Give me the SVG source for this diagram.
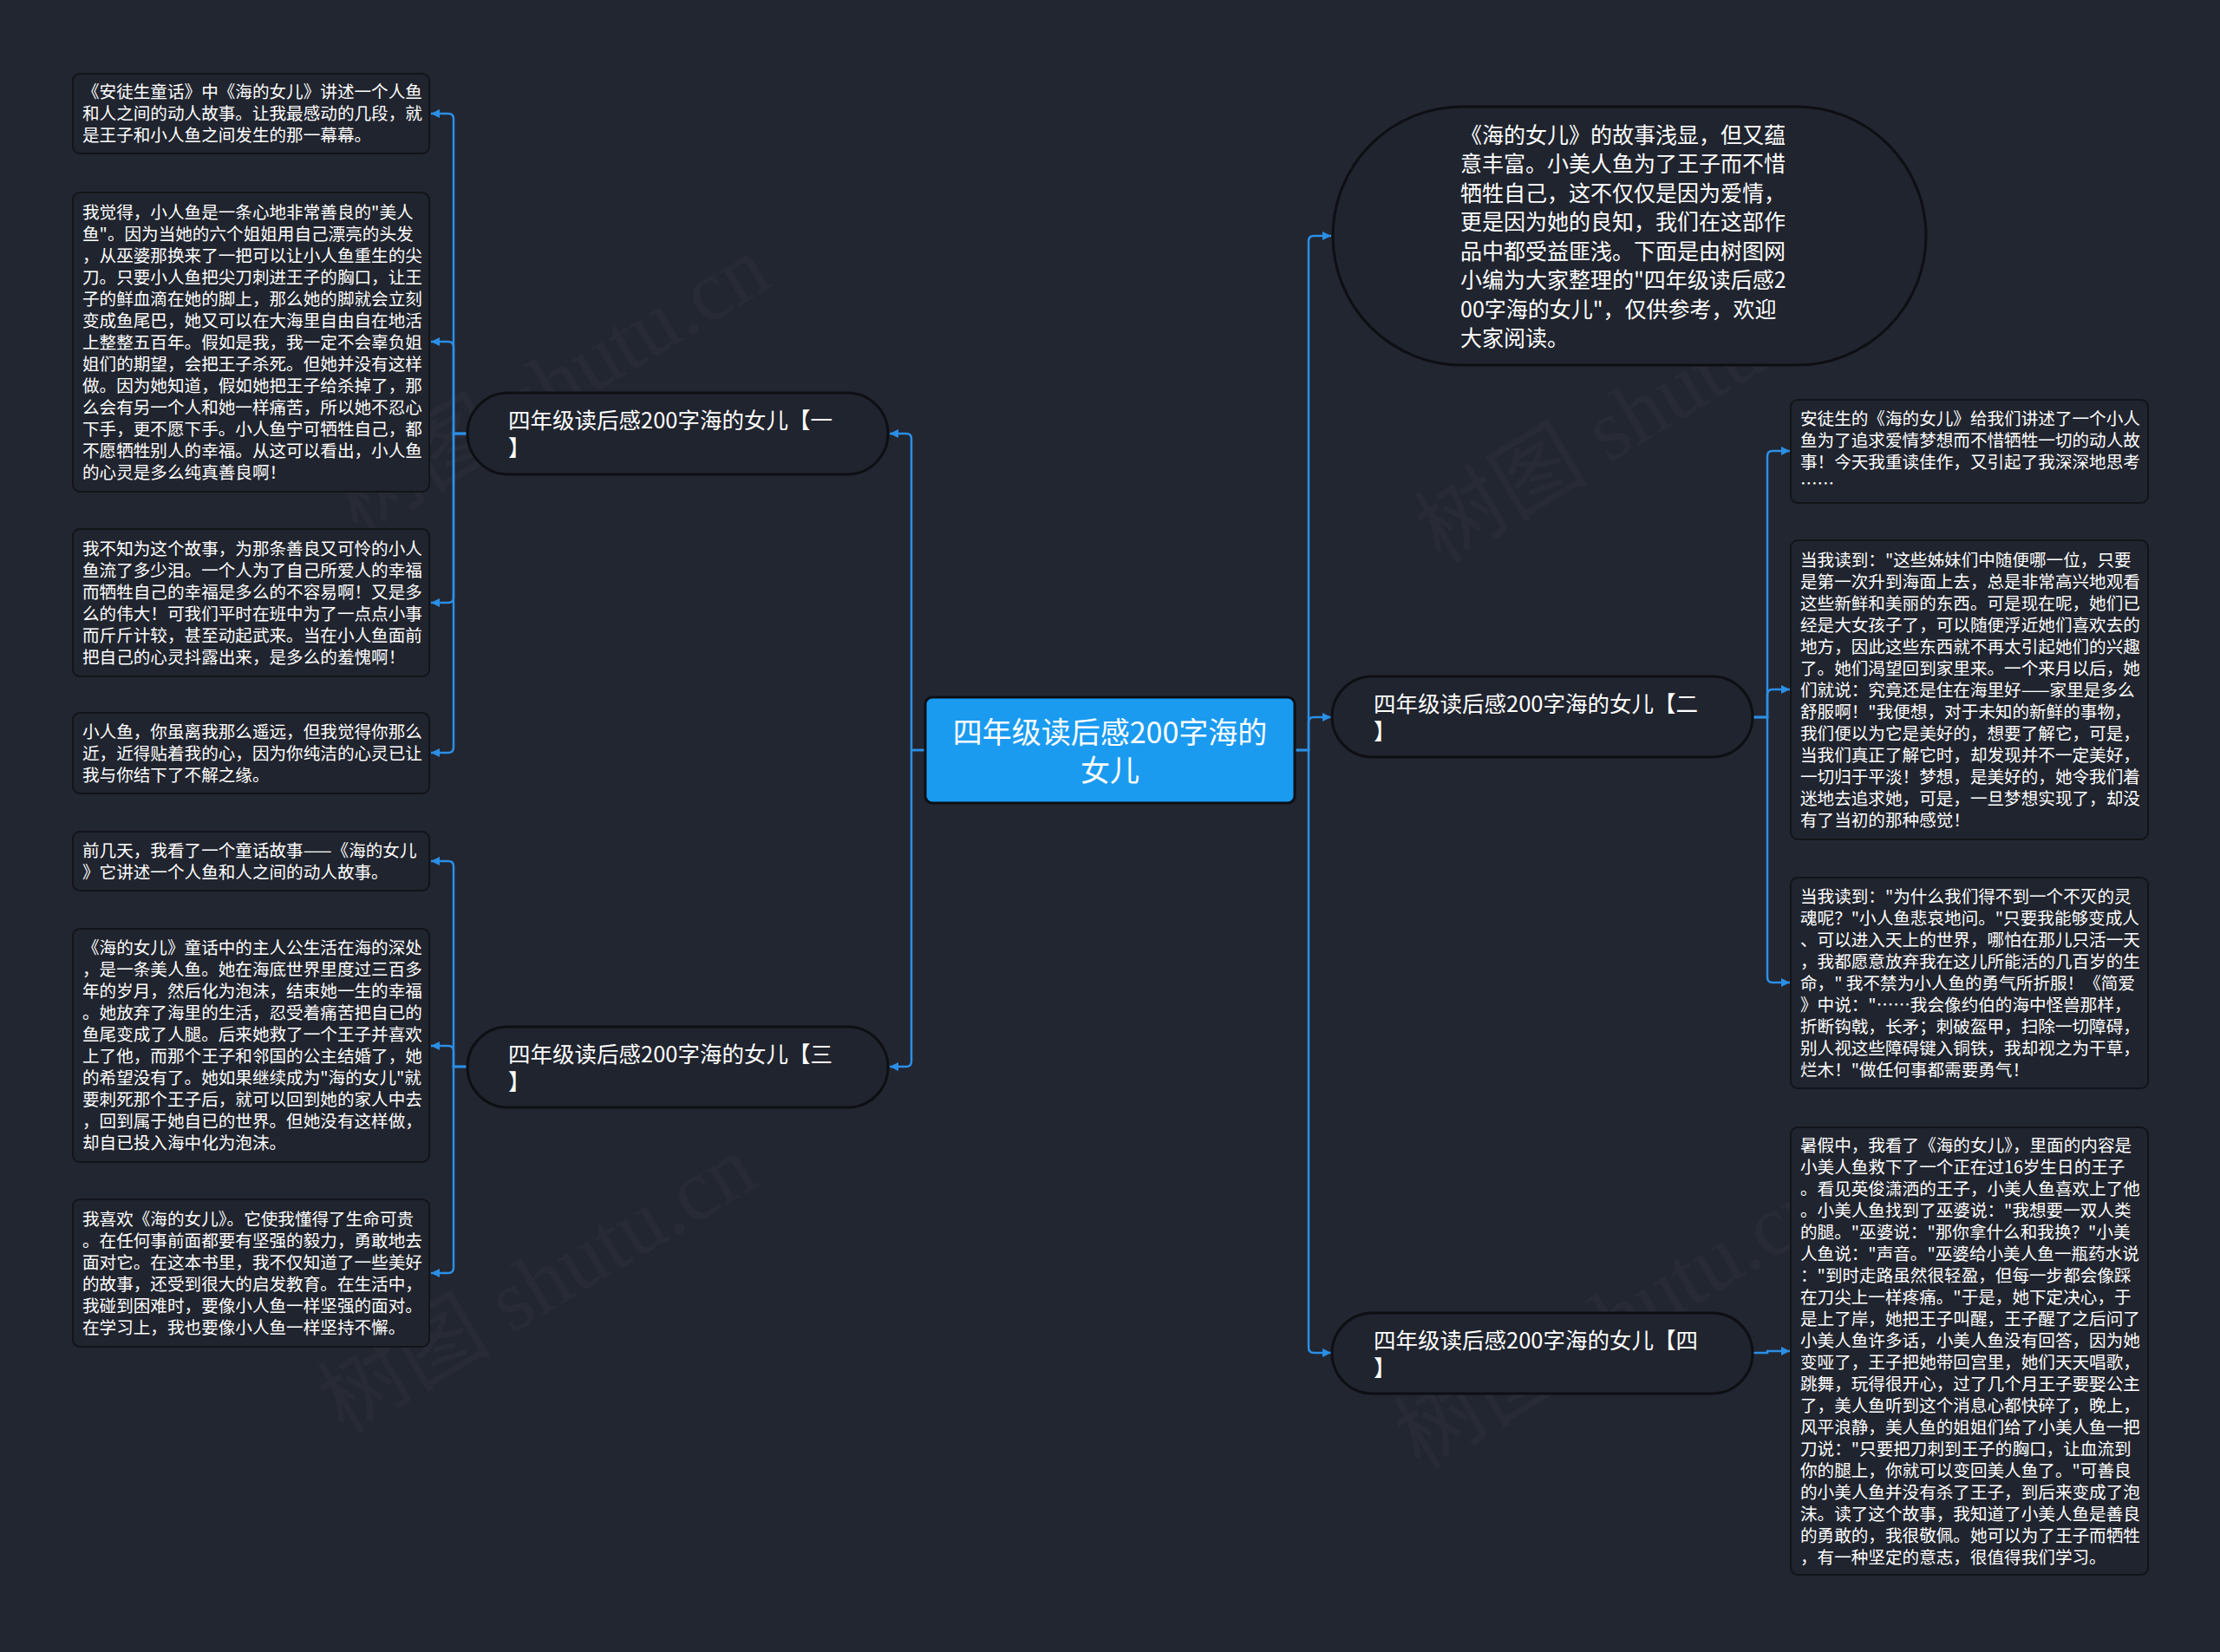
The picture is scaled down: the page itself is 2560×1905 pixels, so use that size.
<svg xmlns="http://www.w3.org/2000/svg" width="2560" height="1905" viewBox="0 0 2560 1905">
<style>
.bg{fill:#222631}
.leaf{fill:#20242e;stroke:#121419;stroke-width:2}
.pill{fill:#20242e;stroke:#0d0f13;stroke-width:3}
.root{fill:#1b9bf0;stroke:#0d0f13;stroke-width:3}
.t{font-family:"Noto Sans CJK SC","Noto Sans",sans-serif;fill:#ffffff}
.lt{font-size:19.6px}
.bt{font-size:25.5px}
.it{font-size:25px}
.ct{font-size:34px}
.edge{fill:none;stroke:#2b8fe6;stroke-width:2.5}
.wm{font-family:"Liberation Serif","Noto Sans CJK SC",serif;font-size:100px;fill:#ffffff;opacity:0.025}
</style>
<defs>
<marker id="arr" markerUnits="userSpaceOnUse" markerWidth="12" markerHeight="12" refX="10" refY="6" orient="auto">
<path d="M0,1 L10,6 L0,11 z" fill="#2b8fe6"/>
</marker>
</defs>
<rect class="bg" x="0" y="0" width="2560" height="1905"/>

<g id="watermarks">
<text class="wm" transform="translate(653,473) rotate(-31)" text-anchor="middle">树图 shutu.cn</text>
<text class="wm" transform="translate(1902,506) rotate(-31)" text-anchor="middle">树图 shutu.cn</text>
<text class="wm" transform="translate(637,1510) rotate(-31)" text-anchor="middle">树图 shutu.cn</text>
<text class="wm" transform="translate(1878,1551) rotate(-31)" text-anchor="middle">树图 shutu.cn</text>
</g>

<g id="connectors">
<path class="edge" marker-end="url(#arr)" d="M1067,865 H1051 V506 Q1051,500 1045,500 H1026"/>
<path class="edge" marker-end="url(#arr)" d="M1067,865 H1051 V1224 Q1051,1230 1045,1230 H1026"/>
<path class="edge" marker-end="url(#arr)" d="M1493,865 H1509 V278 Q1509,272 1515,272 H1535"/>
<path class="edge" marker-end="url(#arr)" d="M1493,865 H1509 V833 Q1509,827 1515,827 H1535"/>
<path class="edge" marker-end="url(#arr)" d="M1493,865 H1509 V1554 Q1509,1560 1515,1560 H1535"/>
<path class="edge" marker-end="url(#arr)" d="M539,500 H523 V137 Q523,131 517,131 H497"/>
<path class="edge" marker-end="url(#arr)" d="M539,500 H523 V400 Q523,394 517,394 H497"/>
<path class="edge" marker-end="url(#arr)" d="M539,500 H523 V689 Q523,695 517,695 H497"/>
<path class="edge" marker-end="url(#arr)" d="M539,500 H523 V862 Q523,868 517,868 H497"/>
<path class="edge" marker-end="url(#arr)" d="M539,1230 H523 V999 Q523,993 517,993 H497"/>
<path class="edge" marker-end="url(#arr)" d="M539,1230 H523 V1212 Q523,1206 517,1206 H497"/>
<path class="edge" marker-end="url(#arr)" d="M539,1230 H523 V1462 Q523,1468 517,1468 H497"/>
<path class="edge" marker-end="url(#arr)" d="M2021,827 H2038 V526 Q2038,520 2044,520 H2064"/>
<path class="edge" marker-end="url(#arr)" d="M2021,827 H2038 V801 Q2038,795 2044,795 H2064"/>
<path class="edge" marker-end="url(#arr)" d="M2021,827 H2038 V1127 Q2038,1133 2044,1133 H2064"/>
<path class="edge" marker-end="url(#arr)" d="M2021,1560 H2038 V1558 H2064"/>
</g>

<g id="root">
<rect class="root" x="1067" y="804" width="426" height="122" rx="8"/>
<text class="t ct" text-anchor="middle"><tspan x="1280" y="857">四年级读后感200字海的</tspan><tspan x="1280" y="901">女儿</tspan></text>
</g>

<g id="branch1">
<rect class="pill" x="539" y="453" width="485" height="94" rx="47"/>
<text class="t bt"><tspan x="586" y="494">四年级读后感200字海的女儿【一</tspan><tspan x="586" y="526">】</tspan></text>
</g>
<g id="branch3">
<rect class="pill" x="539" y="1184" width="485" height="93" rx="46.5"/>
<text class="t bt"><tspan x="586" y="1224.5">四年级读后感200字海的女儿【三</tspan><tspan x="586" y="1256.5">】</tspan></text>
</g>
<g id="branch2">
<rect class="pill" x="1536" y="780" width="485" height="93" rx="46.5"/>
<text class="t bt"><tspan x="1584" y="820.5">四年级读后感200字海的女儿【二</tspan><tspan x="1584" y="852.5">】</tspan></text>
</g>
<g id="branch4">
<rect class="pill" x="1536" y="1514" width="485" height="93" rx="46.5"/>
<text class="t bt"><tspan x="1584" y="1554.5">四年级读后感200字海的女儿【四</tspan><tspan x="1584" y="1586.5">】</tspan></text>
</g>

<g id="intro">
<rect class="pill" x="1537" y="123" width="684" height="298" rx="149"/>
<text class="t it">
<tspan x="1684" y="164.5">《海的女儿》的故事浅显，但又蕴</tspan>
<tspan x="1684" y="198">意丰富。小美人鱼为了王子而不惜</tspan>
<tspan x="1684" y="231.5">牺牲自己，这不仅仅是因为爱情，</tspan>
<tspan x="1684" y="265">更是因为她的良知，我们在这部作</tspan>
<tspan x="1684" y="298.5">品中都受益匪浅。下面是由树图网</tspan>
<tspan x="1684" y="332">小编为大家整理的"四年级读后感2</tspan>
<tspan x="1684" y="365.5">00字海的女儿"，仅供参考，欢迎</tspan>
<tspan x="1684" y="399">大家阅读。</tspan>
</text>
</g>

<g id="leaf-l1">
<rect class="leaf" x="84" y="85" width="411" height="92" rx="8"/>
<text class="t lt">
<tspan x="95" y="113">《安徒生童话》中《海的女儿》讲述一个人鱼</tspan>
<tspan x="95" y="138">和人之间的动人故事。让我最感动的几段，就</tspan>
<tspan x="95" y="163">是王子和小人鱼之间发生的那一幕幕。</tspan>
</text>
</g>

<g id="leaf-l2">
<rect class="leaf" x="84" y="222" width="411" height="345" rx="8"/>
<text class="t lt">
<tspan x="95" y="251.5">我觉得，小人鱼是一条心地非常善良的"美人</tspan>
<tspan x="95" y="276.5">鱼"。因为当她的六个姐姐用自己漂亮的头发</tspan>
<tspan x="95" y="301.5">，从巫婆那换来了一把可以让小人鱼重生的尖</tspan>
<tspan x="95" y="326.5">刀。只要小人鱼把尖刀刺进王子的胸口，让王</tspan>
<tspan x="95" y="351.5">子的鲜血滴在她的脚上，那么她的脚就会立刻</tspan>
<tspan x="95" y="376.5">变成鱼尾巴，她又可以在大海里自由自在地活</tspan>
<tspan x="95" y="401.5">上整整五百年。假如是我，我一定不会辜负姐</tspan>
<tspan x="95" y="426.5">姐们的期望，会把王子杀死。但她并没有这样</tspan>
<tspan x="95" y="451.5">做。因为她知道，假如她把王子给杀掉了，那</tspan>
<tspan x="95" y="476.5">么会有另一个人和她一样痛苦，所以她不忍心</tspan>
<tspan x="95" y="501.5">下手，更不愿下手。小人鱼宁可牺牲自己，都</tspan>
<tspan x="95" y="526.5">不愿牺牲别人的幸福。从这可以看出，小人鱼</tspan>
<tspan x="95" y="551.5">的心灵是多么纯真善良啊！</tspan>
</text>
</g>

<g id="leaf-l3">
<rect class="leaf" x="84" y="610" width="411" height="170" rx="8"/>
<text class="t lt">
<tspan x="95" y="639.5">我不知为这个故事，为那条善良又可怜的小人</tspan>
<tspan x="95" y="664.5">鱼流了多少泪。一个人为了自己所爱人的幸福</tspan>
<tspan x="95" y="689.5">而牺牲自己的幸福是多么的不容易啊！又是多</tspan>
<tspan x="95" y="714.5">么的伟大！可我们平时在班中为了一点点小事</tspan>
<tspan x="95" y="739.5">而斤斤计较，甚至动起武来。当在小人鱼面前</tspan>
<tspan x="95" y="764.5">把自己的心灵抖露出来，是多么的羞愧啊！</tspan>
</text>
</g>

<g id="leaf-l4">
<rect class="leaf" x="84" y="822" width="411" height="93" rx="8"/>
<text class="t lt">
<tspan x="95" y="850.5">小人鱼，你虽离我那么遥远，但我觉得你那么</tspan>
<tspan x="95" y="875.5">近，近得贴着我的心，因为你纯洁的心灵已让</tspan>
<tspan x="95" y="900.5">我与你结下了不解之缘。</tspan>
</text>
</g>

<g id="leaf-l5">
<rect class="leaf" x="84" y="959" width="411" height="68" rx="8"/>
<text class="t lt">
<tspan x="95" y="987.5">前几天，我看了一个童话故事——《海的女儿</tspan>
<tspan x="95" y="1012.5">》它讲述一个人鱼和人之间的动人故事。</tspan>
</text>
</g>

<g id="leaf-l6">
<rect class="leaf" x="84" y="1071" width="411" height="269" rx="8"/>
<text class="t lt">
<tspan x="95" y="1100">《海的女儿》童话中的主人公生活在海的深处</tspan>
<tspan x="95" y="1125">，是一条美人鱼。她在海底世界里度过三百多</tspan>
<tspan x="95" y="1150">年的岁月，然后化为泡沫，结束她一生的幸福</tspan>
<tspan x="95" y="1175">。她放弃了海里的生活，忍受着痛苦把自已的</tspan>
<tspan x="95" y="1200">鱼尾变成了人腿。后来她救了一个王子并喜欢</tspan>
<tspan x="95" y="1225">上了他，而那个王子和邻国的公主结婚了，她</tspan>
<tspan x="95" y="1250">的希望没有了。她如果继续成为"海的女儿"就</tspan>
<tspan x="95" y="1275">要刺死那个王子后，就可以回到她的家人中去</tspan>
<tspan x="95" y="1300">，回到属于她自已的世界。但她没有这样做，</tspan>
<tspan x="95" y="1325">却自已投入海中化为泡沫。</tspan>
</text>
</g>

<g id="leaf-l7">
<rect class="leaf" x="84" y="1383" width="411" height="170" rx="8"/>
<text class="t lt">
<tspan x="95" y="1412.5">我喜欢《海的女儿》。它使我懂得了生命可贵</tspan>
<tspan x="95" y="1437.5">。在任何事前面都要有坚强的毅力，勇敢地去</tspan>
<tspan x="95" y="1462.5">面对它。在这本书里，我不仅知道了一些美好</tspan>
<tspan x="95" y="1487.5">的故事，还受到很大的启发教育。在生活中，</tspan>
<tspan x="95" y="1512.5">我碰到困难时，要像小人鱼一样坚强的面对。</tspan>
<tspan x="95" y="1537.5">在学习上，我也要像小人鱼一样坚持不懈。</tspan>
</text>
</g>

<g id="leaf-r1">
<rect class="leaf" x="2065" y="461" width="412" height="119" rx="8"/>
<text class="t lt">
<tspan x="2076" y="490">安徒生的《海的女儿》给我们讲述了一个小人</tspan>
<tspan x="2076" y="515">鱼为了追求爱情梦想而不惜牺牲一切的动人故</tspan>
<tspan x="2076" y="540">事！今天我重读佳作，又引起了我深深地思考</tspan>
<tspan x="2076" y="565">……</tspan>
</text>
</g>

<g id="leaf-r2">
<rect class="leaf" x="2065" y="623" width="412" height="345" rx="8"/>
<text class="t lt">
<tspan x="2076" y="652.5">当我读到："这些姊妹们中随便哪一位，只要</tspan>
<tspan x="2076" y="677.5">是第一次升到海面上去，总是非常高兴地观看</tspan>
<tspan x="2076" y="702.5">这些新鲜和美丽的东西。可是现在呢，她们已</tspan>
<tspan x="2076" y="727.5">经是大女孩子了，可以随便浮近她们喜欢去的</tspan>
<tspan x="2076" y="752.5">地方，因此这些东西就不再太引起她们的兴趣</tspan>
<tspan x="2076" y="777.5">了。她们渴望回到家里来。一个来月以后，她</tspan>
<tspan x="2076" y="802.5">们就说：究竟还是住在海里好——家里是多么</tspan>
<tspan x="2076" y="827.5">舒服啊！"我便想，对于未知的新鲜的事物，</tspan>
<tspan x="2076" y="852.5">我们便以为它是美好的，想要了解它，可是，</tspan>
<tspan x="2076" y="877.5">当我们真正了解它时，却发现并不一定美好，</tspan>
<tspan x="2076" y="902.5">一切归于平淡！梦想，是美好的，她令我们着</tspan>
<tspan x="2076" y="927.5">迷地去追求她，可是，一旦梦想实现了，却没</tspan>
<tspan x="2076" y="952.5">有了当初的那种感觉！</tspan>
</text>
</g>

<g id="leaf-r3">
<rect class="leaf" x="2065" y="1012" width="412" height="243" rx="8"/>
<text class="t lt">
<tspan x="2076" y="1040.5">当我读到："为什么我们得不到一个不灭的灵</tspan>
<tspan x="2076" y="1065.5">魂呢？"小人鱼悲哀地问。"只要我能够变成人</tspan>
<tspan x="2076" y="1090.5">、可以进入天上的世界，哪怕在那儿只活一天</tspan>
<tspan x="2076" y="1115.5">，我都愿意放弃我在这儿所能活的几百岁的生</tspan>
<tspan x="2076" y="1140.5">命，" 我不禁为小人鱼的勇气所折服！《简爱</tspan>
<tspan x="2076" y="1165.5">》中说："……我会像约伯的海中怪兽那样，</tspan>
<tspan x="2076" y="1190.5">折断钩戟，长矛；刺破盔甲，扫除一切障碍，</tspan>
<tspan x="2076" y="1215.5">别人视这些障碍键入铜铁，我却视之为干草，</tspan>
<tspan x="2076" y="1240.5">烂木！"做任何事都需要勇气！</tspan>
</text>
</g>

<g id="leaf-r4">
<rect class="leaf" x="2065" y="1300" width="412" height="516" rx="8"/>
<text class="t lt">
<tspan x="2076" y="1327.5">暑假中，我看了《海的女儿》，里面的内容是</tspan>
<tspan x="2076" y="1352.5">小美人鱼救下了一个正在过16岁生日的王子</tspan>
<tspan x="2076" y="1377.5">。看见英俊潇洒的王子，小美人鱼喜欢上了他</tspan>
<tspan x="2076" y="1402.5">。小美人鱼找到了巫婆说："我想要一双人类</tspan>
<tspan x="2076" y="1427.5">的腿。"巫婆说："那你拿什么和我换？"小美</tspan>
<tspan x="2076" y="1452.5">人鱼说："声音。"巫婆给小美人鱼一瓶药水说</tspan>
<tspan x="2076" y="1477.5">："到时走路虽然很轻盈，但每一步都会像踩</tspan>
<tspan x="2076" y="1502.5">在刀尖上一样疼痛。"于是，她下定决心，于</tspan>
<tspan x="2076" y="1527.5">是上了岸，她把王子叫醒，王子醒了之后问了</tspan>
<tspan x="2076" y="1552.5">小美人鱼许多话，小美人鱼没有回答，因为她</tspan>
<tspan x="2076" y="1577.5">变哑了，王子把她带回宫里，她们天天唱歌，</tspan>
<tspan x="2076" y="1602.5">跳舞，玩得很开心，过了几个月王子要娶公主</tspan>
<tspan x="2076" y="1627.5">了，美人鱼听到这个消息心都快碎了，晚上，</tspan>
<tspan x="2076" y="1652.5">风平浪静，美人鱼的姐姐们给了小美人鱼一把</tspan>
<tspan x="2076" y="1677.5">刀说："只要把刀刺到王子的胸口，让血流到</tspan>
<tspan x="2076" y="1702.5">你的腿上，你就可以变回美人鱼了。"可善良</tspan>
<tspan x="2076" y="1727.5">的小美人鱼并没有杀了王子，到后来变成了泡</tspan>
<tspan x="2076" y="1752.5">沫。读了这个故事，我知道了小美人鱼是善良</tspan>
<tspan x="2076" y="1777.5">的勇敢的，我很敬佩。她可以为了王子而牺牲</tspan>
<tspan x="2076" y="1802.5">，有一种坚定的意志，很值得我们学习。</tspan>
</text>
</g>
</svg>
